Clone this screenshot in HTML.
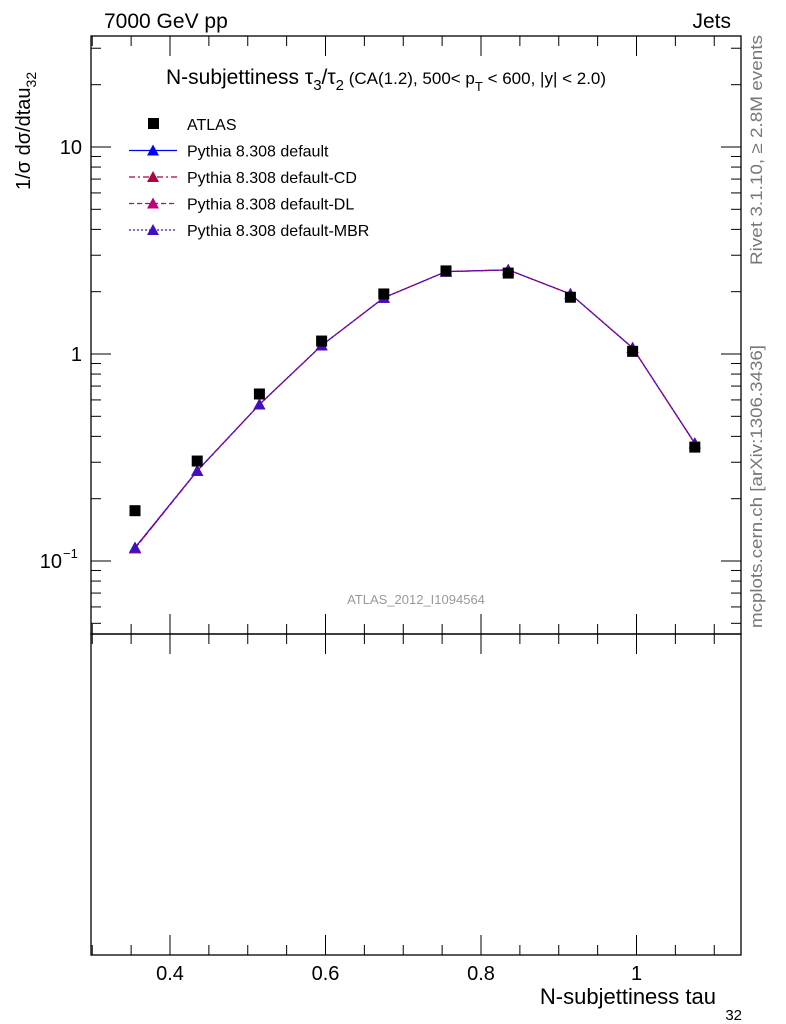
<!DOCTYPE html>
<html><head><meta charset="utf-8"><style>
body{margin:0;background:#fff;}
svg{display:block;font-family:"Liberation Sans",sans-serif;}
</style></head><body>
<svg id="c" width="786" height="1024" xmlns="http://www.w3.org/2000/svg">
<rect x="0" y="0" width="786" height="1024" fill="#fff"/>
<g id="frame"></g>
<text x="104" y="28" font-size="21">7000 GeV pp</text>
<text x="731" y="28" font-size="21" text-anchor="end">Jets</text>
<text x="166" y="84" font-size="21">N-subjettiness τ<tspan font-size="15" dy="6">3</tspan><tspan dy="-6">/τ</tspan><tspan font-size="15" dy="6">2</tspan><tspan dy="-6" font-size="17"> (CA(1.2), 500&lt; p</tspan><tspan font-size="13" dy="7">T</tspan><tspan dy="-7" font-size="17"> &lt; 600, |y| &lt; 2.0)</tspan></text>
<text transform="translate(30,190) rotate(-90)" font-size="20">1/σ dσ/dtau<tspan font-size="14" dy="6">32</tspan></text>
<text x="716" y="1004" font-size="22" text-anchor="end">N-subjettiness tau</text>
<text x="742" y="1020" font-size="15" text-anchor="end">32</text>
<text transform="translate(762,265) rotate(-90)" font-size="17" fill="#777" textLength="230" lengthAdjust="spacingAndGlyphs">Rivet 3.1.10, ≥ 2.8M events</text>
<text transform="translate(762,628) rotate(-90)" font-size="17" fill="#777" textLength="283" lengthAdjust="spacingAndGlyphs">mcplots.cern.ch [arXiv:1306.3436]</text>
<text x="416" y="604" font-size="13" fill="#999" text-anchor="middle">ATLAS_2012_I1094564</text>
<g id="legend"></g>
<g id="series"></g>
</svg>
<script>
const xCats=[0.355,0.435,0.515,0.595,0.675,0.755,0.835,0.915,0.995,1.075];
const dataVals=[0.175,0.304,0.641,1.155,1.95,2.52,2.46,1.88,1.03,0.355];
const mcDefault=[0.116,0.273,0.57,1.10,1.87,2.50,2.55,1.95,1.07,0.37];
const mcCD=[0.115,0.272,0.57,1.10,1.87,2.50,2.55,1.95,1.07,0.37];
const mcDL=[0.115,0.272,0.57,1.10,1.87,2.50,2.55,1.95,1.07,0.37];
const mcMBR=[0.116,0.273,0.57,1.10,1.87,2.50,2.55,1.95,1.07,0.37];
const xTicks=[0.4,0.6,0.8,1.0];
const xTickLabels=["0.4","0.6","0.8","1"];
const yTickLabels=["10","1","10"];

const L=91,R=741,T=36,B=634,B2=955;
const X=v=>170+(v-0.4)*777.5;
const Y=v=>354-Math.log10(v)*207;
const NS="http://www.w3.org/2000/svg";
function mk(tag,attrs,parent){const e=document.createElementNS(NS,tag);for(const k in attrs)e.setAttribute(k,attrs[k]);parent.appendChild(e);return e;}
const fr=document.getElementById('frame');
let r=mk('rect',{x:L,y:T,width:R-L,height:B-T,fill:'none',stroke:'#000','stroke-width':1.3},fr);


r=mk('rect',{x:L,y:B,width:R-L,height:B2-B,fill:'none',stroke:'#000','stroke-width':1.3},fr);


for(let d=-2;d<=1;d++){for(let m=1;m<=9;m++){const v=m*Math.pow(10,d);const y=Y(v);if(y<T||y>B)continue;const len=m==1?20:10;
mk('line',{x1:L,x2:L+len,y1:y,y2:y,stroke:'#000'},fr);mk('line',{x1:R,x2:R-len,y1:y,y2:y,stroke:'#000'},fr);}}
let t=mk('text',{x:82,y:Y(10)+7,'font-size':20,'text-anchor':'end'},fr);t.textContent=yTickLabels[0];


t=mk('text',{x:82,y:Y(1)+7,'font-size':20,'text-anchor':'end'},fr);t.textContent=yTickLabels[1];


t=mk('text',{x:62,y:Y(0.1)+7,'font-size':20,'text-anchor':'end'},fr);t.textContent=yTickLabels[2];


t=mk('text',{x:63,y:Y(0.1)-3,'font-size':13},fr);t.textContent="−1";
for(let i=0;i<30;i++){const v=0.3+i*0.05;const x=X(v);if(x<L||x>R)continue;const maj=Math.abs(v*5-Math.round(v*5))<1e-6;const len=maj?20:10;
for(const yy of [B,B2]){mk('line',{x1:x,x2:x,y1:yy,y2:yy-len,stroke:'#000'},fr);}
mk('line',{x1:x,x2:x,y1:T,y2:T+len,stroke:'#000'},fr);mk('line',{x1:x,x2:x,y1:B,y2:B+len,stroke:'#000'},fr);}
xTicks.forEach((v,i)=>{const t=mk('text',{x:X(v),y:980,'font-size':20,'text-anchor':'middle'},fr);t.textContent=xTickLabels[i];

});
const sg=document.getElementById('series');
function tri(g,x,y,c){return mk('polygon',{points:`${x},${y-6} ${x-6},${y+5} ${x+6},${y+5}`,fill:c},g);}
const mcs=[[mcDefault,'#0000ff',''],[mcCD,'#b00040','6,3,2,3'],[mcDL,'#c0007a','5,3'],[mcMBR,'#4010c0','2,2']];
const names=['mc-default','mc-cd','mc-dl','mc-mbr'];
mcs.forEach((s,k)=>{const g=mk('g',{},sg);


mk('polyline',{points:xCats.map((x,i)=>X(x)+','+Y(s[0][i])).join(' '),fill:'none',stroke:s[1],'stroke-width':1.2,'stroke-dasharray':s[2]},g);
xCats.forEach((x,i)=>{const m=tri(g,X(x),Y(s[0][i]),s[1]);

});});
const dg=mk('g',{},sg);


xCats.forEach((x,i)=>{const m=mk('rect',{x:X(x)-5.5,y:Y(dataVals[i])-5.5,width:11,height:11,fill:'#000'},dg);

});
const lg=document.getElementById('legend');
const labels=['ATLAS','Pythia 8.308 default','Pythia 8.308 default-CD','Pythia 8.308 default-DL','Pythia 8.308 default-MBR'];
labels.forEach((lab,i)=>{const y=124+i*26.5;const g=mk('g',{},lg);


if(i==0)mk('rect',{x:148,y:y-6,width:11,height:11,fill:'#000'},g);
else{const s=mcs[i-1];mk('line',{x1:129,x2:177,y1:y,y2:y,stroke:s[1],'stroke-width':1.2,'stroke-dasharray':s[2]},g);tri(g,153,y,s[1]);}
const t=mk('text',{x:187,y:y+6,'font-size':16},g);t.textContent=lab;});
</script>
</body></html>
